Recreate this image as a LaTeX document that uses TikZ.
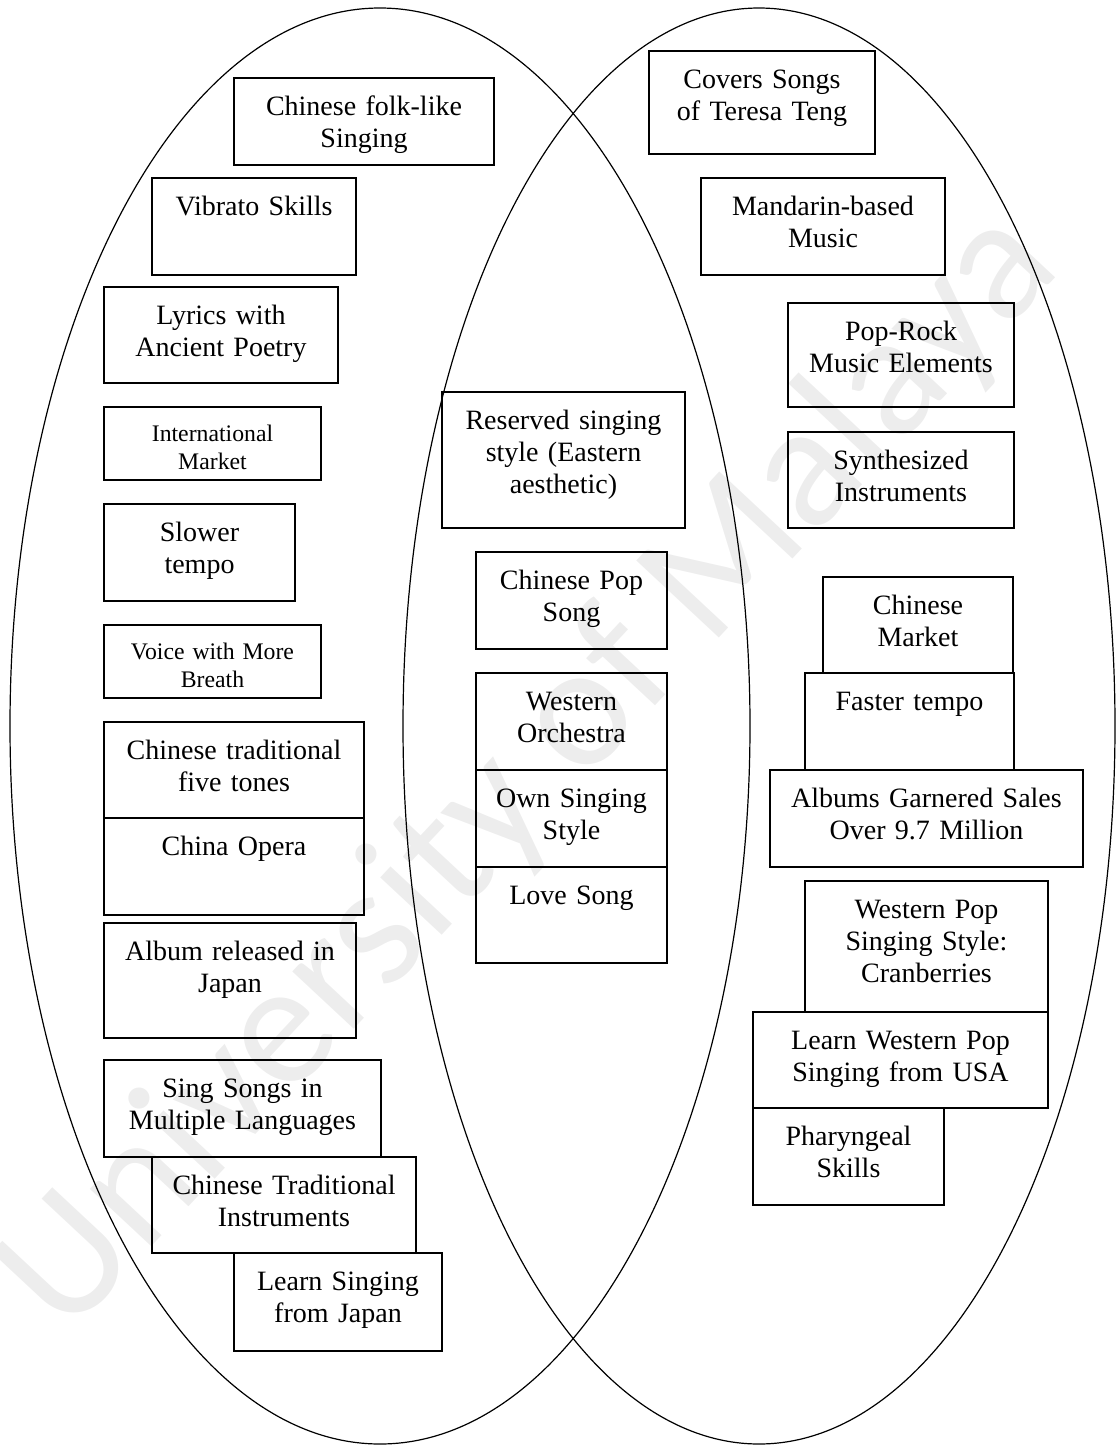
\documentclass[tikz,border=0pt]{standalone}
\usepackage{fontspec}
\setmainfont{Liberation Serif}
\newfontfamily\markfont{Carlito}
\usetikzlibrary{positioning}
\tikzset{
	box/.style={draw, line width=1.4pt, inner sep=0pt, outer sep=0pt, anchor=north west, align=center, text height=28.1pt, font=\fontsize{21}{24}\selectfont},
	smallbox/.style={box, text height=25.8pt, font=\fontsize{17.8}{21}\selectfont},
	venn/.style={line width=0.9pt}
}
\begin{document}
\begin{tikzpicture}[x=0.75pt,y=-0.75pt]
	\useasboundingbox (0,0) rectangle (1120,1446);
	\node[rotate=47, text=black!7, font=\markfont\fontsize{132}{132}\selectfont] (mark) at (530,772) {University of Malaya};
	\draw[venn] (380,726) ellipse [x radius=370, y radius=718];
	\draw[venn] (759,726) ellipse [x radius=356, y radius=718];

	\node[box, text width=195pt, text depth=37.2pt] (folk) at (234,78) {Chinese folk-like\\Singing};
	\node[box, text width=153pt, text depth=44.7pt] (vibrato) at (152,178) {Vibrato Skills};
	\node[box, text width=175.5pt, text depth=43.9pt] (lyrics) at (104,287) {Lyrics with\\Ancient Poetry};
	\node[smallbox, text width=162.75pt, text depth=29pt] (intl) at (104,407) {International\\Market};
	\node[box, text width=143.25pt, text depth=44.7pt] (slower) at (104,504) {Slower\\tempo};
	\node[smallbox, text width=162.75pt, text depth=29pt] (voice) at (104,625) {Voice with More\\Breath};
	\node[box, text width=195pt, text depth=43.9pt] (tones) at (104,722) {Chinese traditional\\five tones};
	\node[box, below=0pt of tones, text width=195pt, text depth=44.7pt] (opera) {China Opera};
	\node[box, text width=189pt, text depth=58.2pt] (album) at (104,923) {Album released in\\Japan};
	\node[box, text width=207.75pt, text depth=44.7pt] (langs) at (104,1060) {Sing Songs in\\Multiple Languages};
	\node[box, text width=198pt, text depth=43.9pt] (instr) at (152,1157) {Chinese Traditional\\Instruments};
	\node[box, text width=156pt, text depth=45.4pt] (japan) at (234,1253) {Learn Singing\\from Japan};

	\node[box, text width=182.25pt, text depth=73.9pt] (reserved) at (442,392) {Reserved singing\\style (Eastern\\aesthetic)};
	\node[box, text width=143.25pt, text depth=44.7pt] (cpop) at (476,552) {Chinese Pop\\Song};
	\node[box, below=18pt of cpop, text width=143.25pt, text depth=44.7pt] (orch) {Western\\Orchestra};
	\node[box, below=0pt of orch, text width=143.25pt, text depth=44.7pt] (own) {Own Singing\\Style};
	\node[box, below=0pt of own, text width=143.25pt, text depth=43.9pt] (love) {Love Song};

	\node[box, text width=169.5pt, text depth=49.2pt] (teng) at (649,51) {Covers Songs\\of Teresa Teng};
	\node[box, text width=183pt, text depth=44.7pt] (mandarin) at (701,178) {Mandarin-based\\Music};
	\node[box, text width=169.5pt, text depth=49.9pt] (poprock) at (788,303) {Pop-Rock\\Music Elements};
	\node[box, below=18.75pt of poprock, text width=169.5pt, text depth=43.9pt] (synth) {Synthesized\\Instruments};
	\node[box, text width=142.5pt, text depth=43.9pt] (cmarket) at (823,577) {Chinese\\Market};
	\node[box, text width=156.75pt, text depth=44.7pt] (faster) at (805,673) {Faster tempo};
	\node[box, text width=234.75pt, text depth=44.7pt] (sales) at (770,770) {Albums Garnered Sales\\Over 9.7 Million};
	\node[box, text width=182.25pt, text depth=70.2pt] (cranb) at (805,881) {Western Pop\\Singing Style:\\Cranberries};
	\node[box, text width=221.25pt, text depth=43.9pt] (usa) at (753,1012) {Learn Western Pop\\Singing from USA};
	\node[box, text width=143.25pt, text depth=44.7pt] (pharyn) at (753,1108) {Pharyngeal\\Skills};
\end{tikzpicture}
\end{document}
